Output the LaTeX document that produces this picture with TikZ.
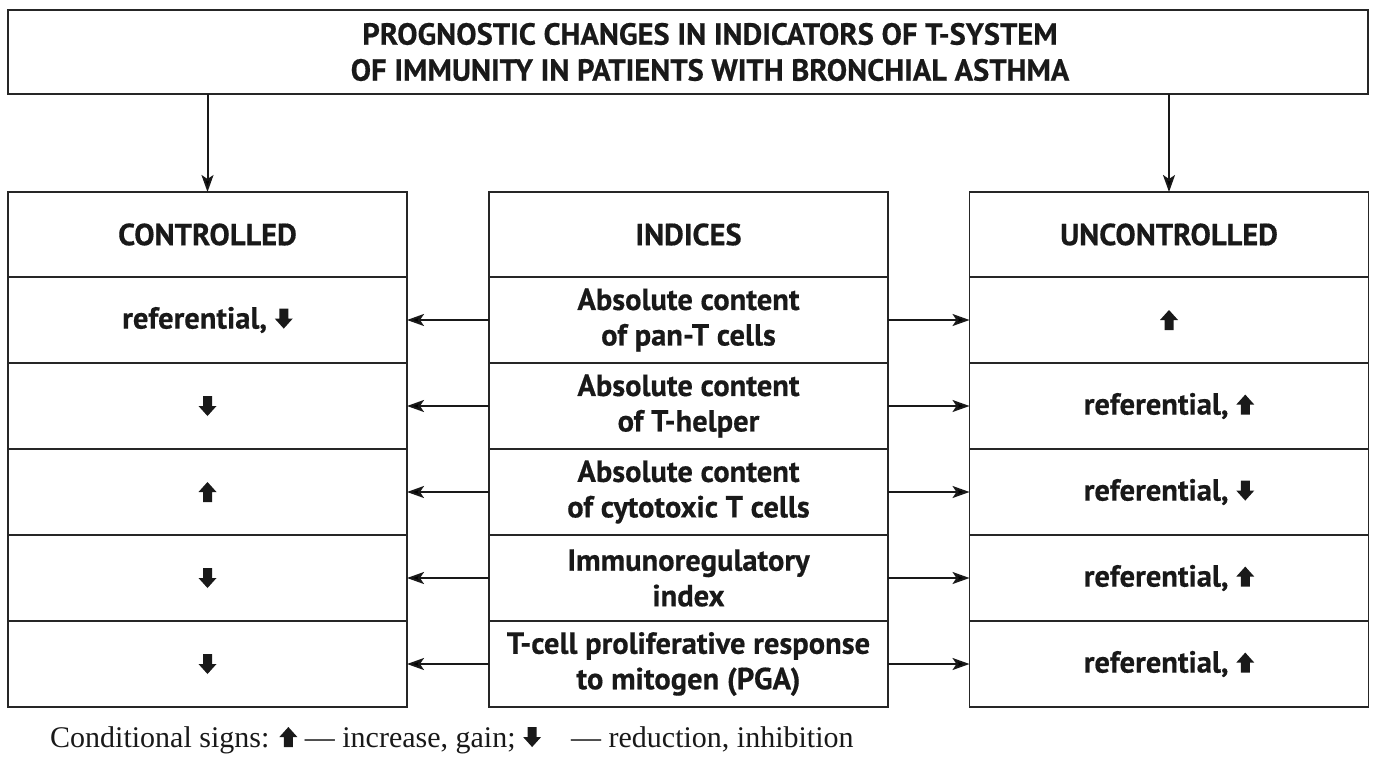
\documentclass[tikz,border=0pt]{standalone}
\usepackage{fontspec}
\setmainfont{Liberation Serif}
\newfontfamily\boxfont{PT Sans}[BoldFeatures={FakeBold=0.5}]
\usetikzlibrary{arrows.meta}
\newcommand\uparr{\tikz[baseline=0pt,x=1pt,y=1pt]\fill[black!90] (-4.5,0)--(4.5,0)--(4.5,10)--(9,10)--(0,20)--(-9,10)--(-4.5,10)--cycle;}
\newcommand\dnarr{\tikz[baseline=0pt,x=1pt,y=1pt]\fill[black!90] (-4.5,20)--(4.5,20)--(4.5,10)--(9,10)--(0,0)--(-9,10)--(-4.5,10)--cycle;}
\tikzset{
  cell/.style={draw=black!85, line width=1.9pt, minimum width=399pt, minimum height=86pt, inner sep=0pt, outer sep=0pt,
    align=center, font=\boxfont\bfseries\fontsize{30.5}{35.5}\selectfont, text=black!90},
  link/.style={draw=black!90, line width=2pt, -{Stealth[length=17pt,width=12pt,inset=4pt]}}
}
\begin{document}
\begin{tikzpicture}[x=1pt,y=-1pt]
\useasboundingbox (0,0) rectangle (1375,758);
\node[cell, minimum width=1360pt, minimum height=84pt] (top) at (688,52) {};
\node[align=center, inner sep=0pt, font=\boxfont\bfseries\fontsize{30.5}{36}\selectfont, text=black!90] (title)
  at ([xshift=22pt]top.center)
  {PROGNOSTIC CHANGES IN INDICATORS OF T-SYSTEM\\OF IMMUNITY IN PATIENTS WITH BRONCHIAL ASTHMA};
% headers
\node[cell, minimum height=85pt] (L0) at (207.5,234.5) {CONTROLLED};
\node[cell, minimum height=85pt] (M0) at (688.5,234.5) {INDICES};
\node[cell, minimum height=85pt] (R0) at (1169,234.5) {UNCONTROLLED};
% rows
\node[cell] (L1) at (207.5,320) {referential, \dnarr};
\node[cell] (L2) at (207.5,406) {\dnarr};
\node[cell] (L3) at (207.5,492) {\uparr};
\node[cell] (L4) at (207.5,578) {\dnarr};
\node[cell] (L5) at (207.5,664) {\dnarr};
\node[cell] (M1) at (688.5,320) {Absolute content\\of pan-T cells};
\node[cell] (M2) at (688.5,406) {Absolute content\\of T-helper};
\node[cell] (M3) at (688.5,492) {Absolute content\\of cytotoxic T cells};
\node[cell] (M4) at (688.5,578) {Immunoregulatory\\index};
\node[cell] (M5) at (688.5,664) {T-cell proliferative response\\to mitogen (PGA)};
\node[cell] (R1) at (1169,320) {\uparr};
\node[cell] (R2) at (1169,406) {referential, \uparr};
\node[cell] (R3) at (1169,492) {referential, \dnarr};
\node[cell] (R4) at (1169,578) {referential, \uparr};
\node[cell] (R5) at (1169,664) {referential, \uparr};
% connectors
\draw[link] (top.south -| L0.north) -- (L0.north);
\draw[link] (top.south -| R0.north) -- (R0.north);
\foreach \i in {1,...,5}{
  \draw[link] (M\i.west) -- (L\i.east);
  \draw[link] (M\i.east) -- (R\i.west);
}
\node[anchor=base west, inner sep=0pt, font=\fontsize{30}{34}\selectfont, text=black!90] (legend) at (50,747)
  {Conditional signs: \uparr{} --- increase, gain; \dnarr\quad --- reduction, inhibition};
\end{tikzpicture}
\end{document}
